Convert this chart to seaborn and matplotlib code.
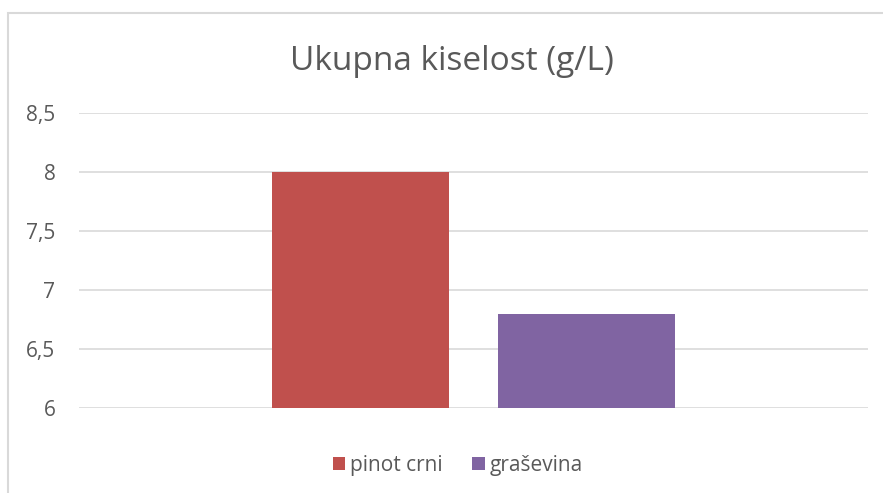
import numpy as np
import pandas as pd
import matplotlib.pyplot as plt
import seaborn as sns
from matplotlib.patches import Rectangle

wines = ['pinot crni', 'graševina']
acidity = [8.0, 6.8]
colors = ['#C0504D', '#8064A2']
yticks = [6, 6.5, 7, 7.5, 8, 8.5]

df = pd.DataFrame({'cat': ['', ''], 'wine': wines, 'val': acidity})

sns.set_style('white')
plt.rcParams['font.family'] = ['Open Sans', 'DejaVu Sans']
grey = '#595959'

fig = plt.figure(figsize=(8.83, 4.93), dpi=100)
ax = fig.add_axes([79 / 883, 1 - 408 / 493, 789 / 883, 295 / 493])

sns.barplot(data=df, x='cat', y='val', hue='wine', palette=colors, saturation=1,
            width=0.573, gap=0.213, ax=ax, legend=True, linewidth=0)

ax.set_ylim(6, 8.5)
ax.set_xlim(-0.5, 0.5)
ax.set_yticks(yticks)
ax.set_yticklabels([f'{t:g}'.replace('.', ',') for t in yticks], color=grey, fontsize=15)
ax.set_xticks([])
ax.set_xlabel('')
ax.set_ylabel('')
ax.tick_params(axis='y', length=0, pad=17)
ax.yaxis.grid(True, color='#D9D9D9', linewidth=1.2)
ax.set_axisbelow(True)
sns.despine(ax=ax, left=True, bottom=True)

handles, labels = ax.get_legend_handles_labels()
ax.get_legend().remove()
fig.legend(handles, labels, loc='center', bbox_to_anchor=(458 / 883, 1 - 465 / 493),
           ncol=2, frameon=False, fontsize=15, labelcolor=grey,
           handlelength=0.6, handleheight=0.6, handletextpad=0.25, columnspacing=1.4)

fig.text(452 / 883, 1 - 62 / 493, 'Ukupna kiselost (g/L)', ha='center', va='center',
         fontsize=24, color=grey)

# outer chart border
fig.patches.append(Rectangle((8 / 883, -0.1), 1.2, 1 - 13 / 493 + 0.1, transform=fig.transFigure,
                             fill=False, edgecolor='#D9D9D9', linewidth=1.5))

fig.savefig('out.png', dpi=100)
